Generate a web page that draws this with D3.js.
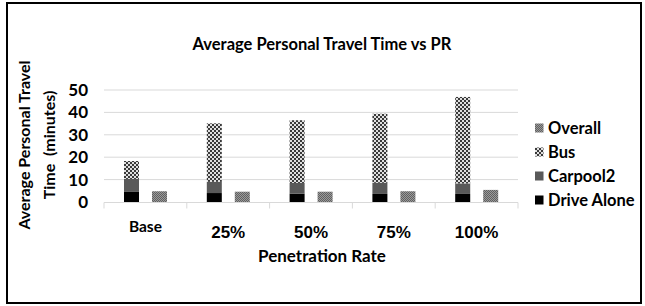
<!DOCTYPE html>
<html><head><meta charset="utf-8">
<script src="https://cdn.jsdelivr.net/npm/d3@7"></script>
<style>
html,body{margin:0;padding:0;background:#fff;}
svg text{font-family:Lato,"Open Sans",sans-serif;font-weight:bold;fill:#000;}
</style></head>
<body><svg id="c" width="645" height="306"></svg>
<script>
const categories = ["Base","25%","50%","75%","100%"];
const driveAlone = [4.5, 4.0, 3.7, 3.6, 3.6];
const carpool2   = [5.8, 5.0, 4.8, 5.0, 4.7];
const bus        = [8.0, 26.1, 28.0, 30.8, 38.6];
const overall    = [4.8, 4.6, 4.6, 4.8, 5.4];
const yTicks = [0,10,20,30,40,50];
const legendItems = ["Overall","Bus","Carpool2","Drive Alone"];

const svg = d3.select("#c");
const defs = svg.append("defs");
const pb = defs.append("pattern").attr("id","pBus").attr("patternUnits","userSpaceOnUse").attr("width",4).attr("height",4);
pb.append("rect").attr("width",4).attr("height",4).attr("fill","#e0e0e0");
pb.append("rect").attr("width",2).attr("height",2).attr("fill","#3a3a3a");
pb.append("rect").attr("x",2).attr("y",2).attr("width",2).attr("height",2).attr("fill","#3a3a3a");
const po = defs.append("pattern").attr("id","pOver").attr("patternUnits","userSpaceOnUse").attr("width",2).attr("height",2);
po.append("rect").attr("width",2).attr("height",2).attr("fill","#9a9a9a");
po.append("rect").attr("width",1).attr("height",1).attr("fill","#606060");
po.append("rect").attr("x",1).attr("y",1).attr("width",1).attr("height",1).attr("fill","#606060");

const fills = {"Overall":"url(#pOver)","Bus":"url(#pBus)","Carpool2":"#595959","Drive Alone":"#000"};

svg.append("rect").attr("x",7).attr("y",3).attr("width",634).attr("height",300)
  .attr("fill","none").attr("stroke","#000").attr("stroke-width",2);

const x = d3.scaleBand().domain(categories).range([104,518]);
const inner = d3.scaleBand().domain(["stack","overall"]).range([20,63]).paddingInner(0.464);
const y = d3.scaleLinear().domain([0,50]).range([202,90]);

svg.append("g").selectAll("line").data(yTicks.filter(d=>d>0)).join("line")
  .attr("x1",104).attr("x2",518).attr("y1",d=>y(d)).attr("y2",d=>y(d))
  .attr("stroke","#d9d9d9").attr("stroke-width",1);

svg.append("g").selectAll("text").data(yTicks).join("text")
  .attr("x",88).attr("y",d=>y(d)).attr("dy","0.35em").attr("text-anchor","end")
  .style("font-size","17px").text(d=>d);

const xa = svg.append("g").attr("transform","translate(0,202.5)");
xa.append("line").attr("x1",104).attr("x2",518).attr("stroke","#d9d9d9");
xa.selectAll("line.t").data(categories.map(c=>x(c)).concat([x.range()[1]])).join("line").attr("class","t")
  .attr("x1",d=>d).attr("x2",d=>d).attr("y1",0).attr("y2",6).attr("stroke","#d9d9d9");

const stackData = categories.map((c,i)=>({cat:c,"Drive Alone":driveAlone[i],"Carpool2":carpool2[i],"Bus":bus[i]}));
const stack = d3.stack().keys(["Drive Alone","Carpool2","Bus"])(stackData);
stack.forEach(layer=>{
  svg.append("g").selectAll("rect").data(layer).join("rect")
    .attr("x",d=>x(d.data.cat)+inner("stack"))
    .attr("width",inner.bandwidth())
    .attr("y",d=>y(d[1])).attr("height",d=>y(d[0])-y(d[1]))
    .attr("fill",fills[layer.key]);
});
svg.append("g").selectAll("rect").data(categories.map((c,i)=>({cat:c,v:overall[i]}))).join("rect")
  .attr("x",d=>x(d.cat)+inner("overall")).attr("width",inner.bandwidth())
  .attr("y",d=>y(d.v)).attr("height",d=>y(0)-y(d.v)).attr("fill",fills["Overall"]);

svg.append("g").selectAll("text").data(categories).join("text")
  .attr("x",d=>x(d)+x.bandwidth()/2)
  .attr("y",d=>d==="Base"?232:238)
  .attr("text-anchor","middle")
  .style("font-family",d=>d==="Base"?null:"'Liberation Sans',Arial,sans-serif")
  .style("font-size",d=>d==="Base"?"15.5px":"17px")
  .text(d=>d);

svg.append("text").attr("x",322).attr("y",262).attr("text-anchor","middle").style("font-size","17px").text("Penetration Rate");
const yt = svg.append("text").attr("transform","translate(0,145) rotate(-90)").attr("text-anchor","middle").style("font-size","16px");
yt.append("tspan").attr("x",0).attr("y",30).text("Average Personal Travel");
yt.append("tspan").attr("x",0).attr("y",55).text("Time  (minutes)").style("white-space","pre");
svg.append("text").attr("x",322).attr("y",50).attr("text-anchor","middle").style("font-size","16.5px").text("Average Personal Travel Time vs PR");

const lg = svg.append("g").selectAll("g").data(legendItems).join("g")
  .attr("transform",(d,i)=>`translate(535,${128+i*24})`);
lg.append("rect").attr("x",0).attr("y",-4.5).attr("width",8.5).attr("height",9).attr("fill",d=>fills[d]);
lg.append("text").attr("x",13).attr("dy","0.35em").style("font-size","16.5px").text(d=>d);
</script></body></html>
